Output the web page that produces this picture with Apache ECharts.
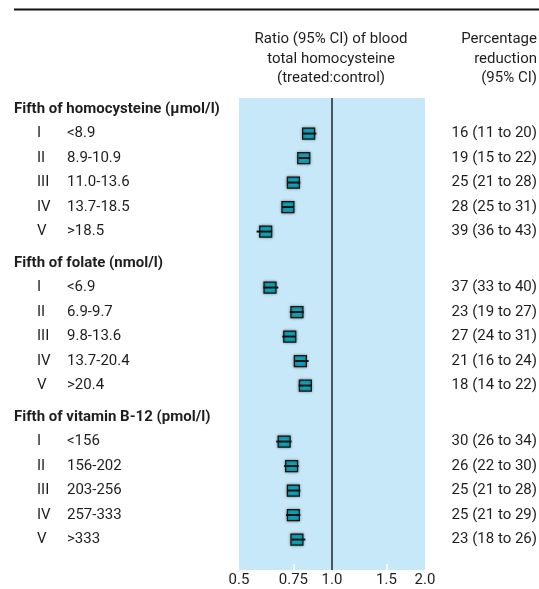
<!DOCTYPE html>
<html><head><meta charset="utf-8">
<script src="https://cdn.jsdelivr.net/npm/echarts@6/dist/echarts.min.js"></script>
<style>html,body{margin:0;padding:0;background:#fff}#c{width:539px;height:589px}</style>
</head><body><div id="c"></div>
<script>
const groupTitles = ['Fifth of homocysteine (\u03bcmol/l)', 'Fifth of folate (nmol/l)', 'Fifth of vitamin B-12 (pmol/l)'];
const fifths = ['I', 'II', 'III', 'IV', 'V'];
const homocysteineRanges = ['<8.9', '8.9-10.9', '11.0-13.6', '13.7-18.5', '>18.5'];
const folateRanges = ['<6.9', '6.9-9.7', '9.8-13.6', '13.7-20.4', '>20.4'];
const vitaminB12Ranges = ['<156', '156-202', '203-256', '257-333', '>333'];

// ratio (95% CI) treated:control
const homocysteineRatio = [0.84, 0.81, 0.75, 0.72, 0.61];
const homocysteineLow   = [0.80, 0.78, 0.72, 0.69, 0.57];
const homocysteineHigh  = [0.89, 0.85, 0.79, 0.75, 0.64];
const folateRatio = [0.63, 0.77, 0.73, 0.79, 0.82];
const folateLow   = [0.60, 0.73, 0.69, 0.76, 0.78];
const folateHigh  = [0.67, 0.81, 0.76, 0.84, 0.86];
const vitaminB12Ratio = [0.70, 0.74, 0.75, 0.75, 0.77];
const vitaminB12Low   = [0.66, 0.70, 0.72, 0.71, 0.74];
const vitaminB12High  = [0.74, 0.78, 0.79, 0.79, 0.82];

// percentage reduction (95% CI)
const homocysteineReduction = [16, 19, 25, 28, 39];
const homocysteineRedLow    = [11, 15, 21, 25, 36];
const homocysteineRedHigh   = [20, 22, 28, 31, 43];
const folateReduction = [37, 23, 27, 21, 18];
const folateRedLow    = [33, 19, 24, 16, 14];
const folateRedHigh   = [40, 27, 31, 24, 22];
const vitaminB12Reduction = [30, 26, 25, 25, 23];
const vitaminB12RedLow    = [26, 22, 21, 21, 18];
const vitaminB12RedHigh   = [34, 30, 28, 29, 26];

const tickValues = [0.5, 0.75, 1.0, 1.5, 2.0];
const tickLabels = ['0.5', '0.75', '1.0', '1.5', '2.0'];
const innerTickValues = [0.75, 1.5];
const refRatio = 1.0;

const groups = [
  {title: groupTitles[0], ranges: homocysteineRanges, ratio: homocysteineRatio, low: homocysteineLow, high: homocysteineHigh,
   red: homocysteineReduction, redLow: homocysteineRedLow, redHigh: homocysteineRedHigh},
  {title: groupTitles[1], ranges: folateRanges, ratio: folateRatio, low: folateLow, high: folateHigh,
   red: folateReduction, redLow: folateRedLow, redHigh: folateRedHigh},
  {title: groupTitles[2], ranges: vitaminB12Ranges, ratio: vitaminB12Ratio, low: vitaminB12Low, high: vitaminB12High,
   red: vitaminB12Reduction, redLow: vitaminB12RedLow, redHigh: vitaminB12RedHigh}
];

const FONT = 'Roboto, "Liberation Sans", sans-serif';
const FS = 15;
const TXT = '#1e1e1e';
const L = 239, R = 114;

const grids = [], xAxes = [], yAxes = [], series = [];
groups.forEach((g, i) => {
  grids.push({left: L, right: R, top: 96.8 + 154 * i, height: 147, containLabel: false, outerBoundsMode: 'none'});
  xAxes.push({gridIndex: i, type: 'log', logBase: 2, min: 0.5, max: 2, show: false});
  yAxes.push({
    gridIndex: i, type: 'category', inverse: true, position: 'left',
    data: [g.title].concat(g.ranges),
    axisLine: {show: false}, axisTick: {show: false}, splitLine: {show: false},
    axisLabel: {
      interval: 0, align: 'left', margin: 225, fontFamily: FONT, fontSize: FS, color: TXT,
      formatter: (v, idx) => idx === 0 ? '{h|' + v + '}' : '{n|' + fifths[idx - 1] + '}{r|' + v + '}',
      rich: {
        h: {fontFamily: FONT, fontSize: FS, fontWeight: 'bold', color: TXT},
        n: {fontFamily: FONT, fontSize: FS, color: TXT, width: 30, padding: [0, 0, 0, 23]},
        r: {fontFamily: FONT, fontSize: FS, color: TXT}
      }
    }
  });
  yAxes.push({
    gridIndex: i, type: 'category', inverse: true, position: 'right',
    data: [''].concat(g.red.map((r, k) => r + ' (' + g.redLow[k] + ' to ' + g.redHigh[k] + ')')),
    axisLine: {show: false}, axisTick: {show: false}, splitLine: {show: false},
    axisLabel: {interval: 0, align: 'right', margin: 112, fontFamily: FONT, fontSize: FS, color: TXT}
  });
  series.push({
    type: 'custom', xAxisIndex: i, yAxisIndex: 2 * i, z: 5,
    data: g.ratio.map((r, k) => [r, k + 1, g.low[k], g.high[k]]),
    encode: {x: 0, y: 1},
    renderItem: (params, api) => {
      const row = api.value(1);
      const c = api.coord([api.value(0), row]);
      const lo = api.coord([api.value(2), row]);
      const hi = api.coord([api.value(3), row]);
      return {type: 'group', children: [
        {type: 'rect', shape: {x: c[0] - 6, y: c[1] - 5.5, width: 12, height: 11},
         style: {fill: '#12a2b6', stroke: '#111', lineWidth: 1.2, shadowBlur: 3, shadowColor: 'rgba(0,0,0,0.45)'}},
        {type: 'line', shape: {x1: lo[0], y1: c[1], x2: hi[0], y2: c[1]},
         style: {stroke: '#111', lineWidth: 2}}
      ]};
    }
  });
});

// background panel with ratio axis
grids.push({left: L, right: R, top: 98, bottom: 19, show: true, backgroundColor: '#c7e8f8', borderWidth: 0,
            containLabel: false, outerBoundsMode: 'none'});
function nearestLabel(v) {
  let best = 0;
  tickValues.forEach((t, k) => { if (Math.abs(t - v) < Math.abs(tickValues[best] - v)) best = k; });
  return tickLabels[best];
}
xAxes.push({
  gridIndex: 3, type: 'log', logBase: 2, min: 0.5, max: 2,
  axisLine: {show: false}, splitLine: {show: false}, minorTick: {show: false},
  axisTick: {show: true, inside: true, length: 6, customValues: innerTickValues, lineStyle: {color: '#ffffff', width: 1.5}},
  axisLabel: {customValues: tickValues, formatter: v => nearestLabel(v), margin: 3,
              fontFamily: FONT, fontSize: FS, color: TXT}
});
yAxes.push({gridIndex: 3, type: 'value', min: 0, max: 1, show: false});
series.push({
  type: 'line', xAxisIndex: 3, yAxisIndex: 6, z: 1, silent: true, symbol: 'none',
  data: [[refRatio, 0], [refRatio, 1]],
  lineStyle: {color: '#4a545e', width: 2}
});

const chart = echarts.init(document.getElementById('c'), null, {renderer: 'canvas'});
chart.setOption({
  animation: false,
  backgroundColor: '#ffffff',
  grid: grids, xAxis: xAxes, yAxis: yAxes, series: series,
  graphic: [
    {type: 'line', shape: {x1: 14, y1: 9.5, x2: 539, y2: 9.5}, style: {stroke: '#111', lineWidth: 2}},
    {type: 'text', x: 331, y: 59, style: {text: 'Ratio (95% CI) of blood\ntotal homocysteine\n(treated:control)',
      fontFamily: FONT, fontSize: FS, lineHeight: 19.3, fill: TXT, align: 'center', verticalAlign: 'middle'}},
    {type: 'text', x: 537, y: 59, style: {text: 'Percentage\nreduction\n(95% CI)',
      fontFamily: FONT, fontSize: FS, lineHeight: 19.3, fill: TXT, align: 'right', verticalAlign: 'middle'}}
  ]
});
</script>
</body></html>
